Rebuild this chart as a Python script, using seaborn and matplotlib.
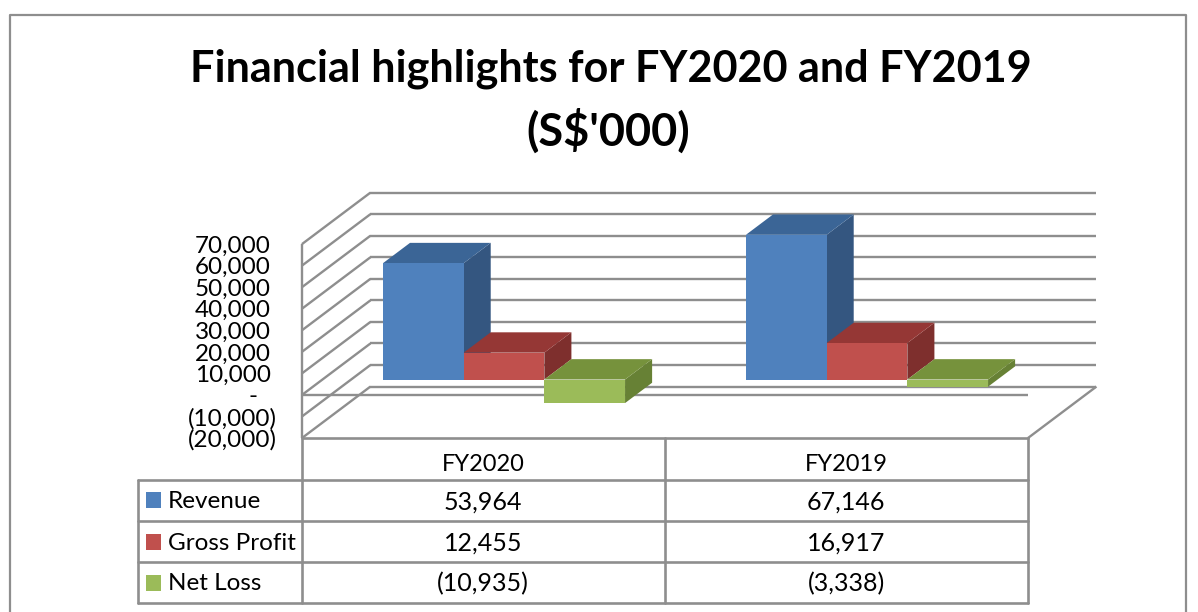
import matplotlib
matplotlib.use('Agg')
import matplotlib.pyplot as plt
from matplotlib.patches import Polygon, Rectangle
from matplotlib.transforms import blended_transform_factory
import pandas as pd
import seaborn as sns

periods = ['FY2020', 'FY2019']
metrics = ['Revenue', 'Gross Profit', 'Net Loss']
revenue = [53964, 67146]
gross_profit = [12455, 16917]
net_loss = [-10935, -3338]
axis_ticks = [70000, 60000, 50000, 40000, 30000, 20000, 10000, 0, -10000, -20000]

front_colors = ['#4F81BD', '#C0504D', '#9BBB59']
top_colors = ['#3B6596', '#953735', '#76923C']
side_colors = ['#345680', '#7E2F2D', '#678135']
line_color = '#8E8E8E'

# calibration of the fake 3d box, in figure pixels
PX_PER_CAT = 363.0
PX_PER_VAL = 0.002155
X0_PX = 504.0
Y0_PX = 379.5
DEPTH_X = 68.5 / PX_PER_CAT
DEPTH_Y = 51.5 / PX_PER_VAL
BAR_D0 = 0.30
BAR_DEPTH = 0.395


def fmt(v):
    return '({:,})'.format(-v) if v < 0 else '{:,}'.format(v)


def proj(x, v, d):
    # d is depth in the box: 0 front wall, 1 back wall
    return x + (d - BAR_D0) * DEPTH_X, v + (d - BAR_D0) * DEPTH_Y


def seg(ax, p, q, lw=1.7):
    ax.plot([p[0], q[0]], [p[1], q[1]], color=line_color, lw=lw, zorder=1,
            solid_capstyle='butt')


sns.set_theme(style='white')
plt.rcParams['font.family'] = ['Lato', 'DejaVu Sans']

df = pd.DataFrame({
    'period': periods * 3,
    'metric': [m for m in metrics for _ in periods],
    'value': revenue + gross_profit + net_loss,
})

fig = plt.figure(figsize=(11.98, 6.12), dpi=100)
fig.patch.set_facecolor('white')
ax = fig.add_axes([0, 0, 1, 1])
sns.barplot(data=df, x='period', y='value', hue='metric', order=periods, hue_order=metrics,
            palette=front_colors, saturation=1, width=3 * 80.7 / PX_PER_CAT, gap=0,
            legend=False, ax=ax, errorbar=None, linewidth=0)
ax.set_xlim(-X0_PX / PX_PER_CAT, (1198 - X0_PX) / PX_PER_CAT)
ax.set_ylim((Y0_PX - 612) / PX_PER_VAL, Y0_PX / PX_PER_VAL)
ax.axis('off')

# overlay in pixels for the frame, title and table
tab = fig.add_axes([0, 0, 1, 1], zorder=5)
tab.set_xlim(0, 1198)
tab.set_ylim(612, 0)
tab.axis('off')
tab.patch.set_alpha(0)

# walls
for v in axis_ticks:
    seg(ax, proj(-0.5, v, 0), proj(-0.5, v, 1))
    seg(ax, proj(-0.5, v, 1), proj(1.5, v, 1))
seg(ax, proj(-0.5, -20000, 0), proj(-0.5, 70000, 0))
seg(ax, proj(-0.5, 0, 0), proj(1.5, 0, 0))
seg(ax, proj(1.5, -20000, 0), proj(1.5, -20000, 1))

# top and side faces of the bars, built on the seaborn patches
order = 2
for group in range(len(periods)):
    for k, container in enumerate(ax.containers):
        bar = container.patches[group]
        x0, w = bar.get_x(), bar.get_width()
        y0, h = bar.get_y(), bar.get_height()
        hi, lo = max(y0, y0 + h), min(y0, y0 + h)
        dx, dy = BAR_DEPTH * DEPTH_X, BAR_DEPTH * DEPTH_Y
        side = [(x0 + w, lo), (x0 + w, hi), (x0 + w + dx, hi + dy), (x0 + w + dx, lo + dy)]
        top = [(x0, hi), (x0 + w, hi), (x0 + w + dx, hi + dy), (x0 + dx, hi + dy)]
        ax.add_patch(Polygon(side, closed=True, fc=side_colors[k], ec='none', zorder=order))
        ax.add_patch(Polygon(top, closed=True, fc=top_colors[k], ec='none', zorder=order + 1))
        bar.set_zorder(order + 2)
        order += 3

# value axis labels
lab_tr = blended_transform_factory(tab.transData, ax.transData)
for v in axis_ticks:
    y = proj(-0.5, v, 0)[1] - 2 / PX_PER_VAL / 1000 * 1000
    if v == 0:
        xr, s = 258, '-'
    elif v < 0:
        xr, s = 277, fmt(v)
    else:
        xr, s = 271, fmt(v)
    ax.text(xr, y, s, transform=lab_tr, ha='right', va='center', fontsize=17.5, color='black',
            zorder=60)

# outer frame
tab.plot([10, 10, 1186, 1186], [612, 15, 15, 612], color=line_color, lw=1.6)

tab.text(611, 69, 'Financial highlights for FY2020 and FY2019', ha='center', va='center',
         fontsize=31.1, fontweight='bold', color='black')
tab.text(608, 131, "(S$'000)", ha='center', va='center', fontsize=32.5, fontweight='bold',
         color='black')

# data table
col_x = [137.5, 301.7, 664.5, 1028]
row_y = [438, 479.5, 521, 562, 603]
for x in col_x[1:]:
    tab.plot([x, x], [row_y[0], row_y[-1]], color=line_color, lw=1.9)
tab.plot([col_x[0], col_x[0]], [row_y[1], row_y[-1]], color=line_color, lw=1.9)
tab.plot([col_x[1], col_x[-1]], [row_y[0], row_y[0]], color=line_color, lw=1.9)
for y in row_y[1:]:
    tab.plot([col_x[0], col_x[-1]], [y, y], color=line_color, lw=1.9)

for j, p in enumerate(periods):
    tab.text((col_x[j + 1] + col_x[j + 2]) / 2, 464.5, p, ha='center', va='center', fontsize=17,
             color='black')

rows = [revenue, gross_profit, net_loss]
for i, m in enumerate(metrics):
    yc = (row_y[i + 1] + row_y[i + 2]) / 2
    tab.add_patch(Rectangle((146, yc - 8), 15, 16, fc=front_colors[i], ec='none'))
    tab.text(168, yc + 1.5, m, ha='left', va='center', fontsize=17.5, color='black')
    for j in range(len(periods)):
        tab.text((col_x[j + 1] + col_x[j + 2]) / 2, yc + 1.5, fmt(rows[i][j]), ha='center',
                 va='center', fontsize=18, color='black')

fig.savefig('out.png', dpi=100)
